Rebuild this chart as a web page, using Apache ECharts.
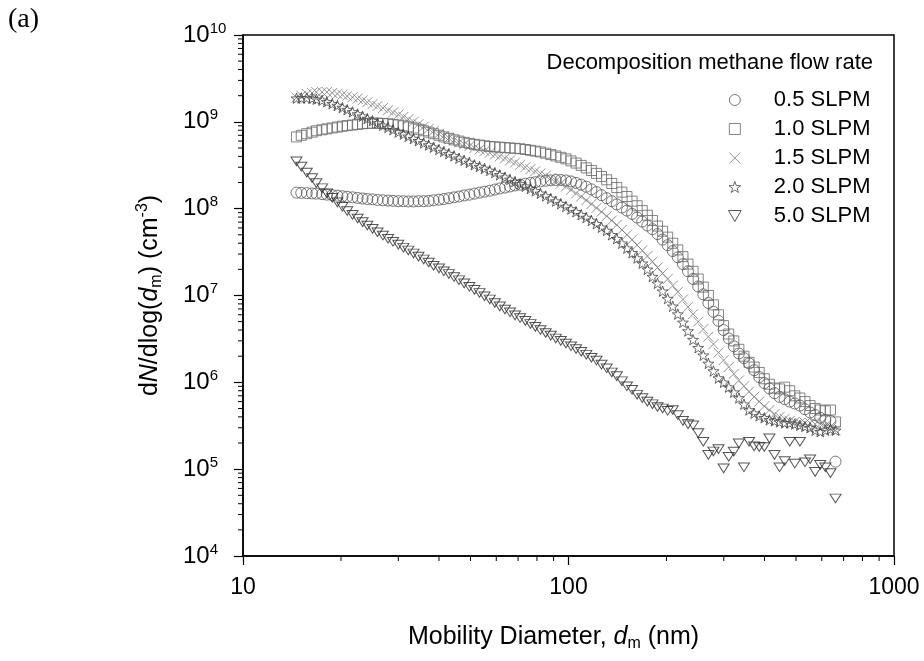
<!DOCTYPE html>
<html>
<head>
<meta charset="utf-8">
<script src="https://cdn.jsdelivr.net/npm/echarts@6/dist/echarts.min.js"></script>
<style>
  html, body { margin: 0; padding: 0; background: #fff; }
  #chart { width: 924px; height: 661px; }
</style>
</head>
<body>
<div id="chart"></div>
<script>
// SMPS channel midpoints (nm)
const diameters = [
  14.6, 15.1, 15.7, 16.3, 16.8, 17.5, 18.1, 18.8, 19.5, 20.2,
  20.9, 21.7, 22.5, 23.3, 24.1, 25.0, 25.9, 26.9, 27.9, 28.9,
  30.0, 31.1, 32.2, 33.4, 34.6, 35.9, 37.2, 38.5, 40.0, 41.4,
  42.9, 44.5, 46.1, 47.8, 49.6, 51.4, 53.3, 55.2, 57.3, 59.4,
  61.5, 63.8, 66.1, 68.5, 71.0, 73.7, 76.4, 79.1, 82.0, 85.1,
  88.2, 91.4, 94.7, 98.2, 101.8, 105.5, 109.4, 113.4, 117.6, 121.9,
  126.3, 131.0, 135.8, 140.7, 145.9, 151.2, 156.8, 162.5, 168.5, 174.7,
  181.1, 187.7, 194.6, 201.7, 209.1, 216.7, 224.7, 232.9, 241.4, 250.3,
  259.5, 269.0, 278.8, 289.0, 299.6, 310.6, 322.0, 333.8, 346.0, 358.7,
  371.8, 385.4, 399.5, 414.2, 429.4, 445.1, 461.4, 478.3, 495.8, 514.0,
  532.8, 552.3, 572.5, 593.5, 615.3, 637.8, 661.2
];

// dN/dlog(dm), cm^-3
const flow05 = [
  1.53e8, 1.52e8, 1.51e8, 1.50e8, 1.49e8, 1.47e8, 1.45e8, 1.43e8, 1.41e8, 1.39e8,
  1.37e8, 1.35e8, 1.33e8, 1.31e8, 1.29e8, 1.28e8, 1.26e8, 1.25e8, 1.24e8, 1.23e8,
  1.22e8, 1.22e8, 1.21e8, 1.21e8, 1.22e8, 1.22e8, 1.23e8, 1.25e8, 1.27e8, 1.29e8,
  1.32e8, 1.35e8, 1.38e8, 1.42e8, 1.45e8, 1.49e8, 1.53e8, 1.57e8, 1.61e8, 1.66e8,
  1.71e8, 1.75e8, 1.80e8, 1.85e8, 1.89e8, 1.94e8, 1.98e8, 2.02e8, 2.06e8, 2.10e8,
  2.12e8, 2.14e8, 2.14e8, 2.11e8, 2.06e8, 1.98e8, 1.89e8, 1.79e8, 1.67e8, 1.55e8,
  1.43e8, 1.32e8, 1.22e8, 1.12e8, 1.03e8, 9.5e7, 8.7e7, 7.9e7, 7.1e7, 6.4e7,
  5.8e7, 5.1e7, 4.4e7, 3.8e7, 3.25e7, 2.75e7, 2.3e7, 1.9e7, 1.55e7, 1.27e7,
  1.03e7, 8.2e6, 6.5e6, 5.1e6, 4.0e6, 3.2e6, 2.6e6, 2.15e6, 1.9e6, 1.65e6,
  1.38e6, 1.15e6, 9.8e5, 8.5e5, 7.5e5, 6.8e5, 6.4e5, 6.0e5, 5.7e5, 5.4e5,
  4.9e5, 4.5e5, 4.2e5, 3.9e5, 3.7e5, 3.6e5, 1.22e5
];
const flow10 = [
  6.7e8, 7.0e8, 7.3e8, 7.6e8, 7.9e8, 8.1e8, 8.3e8, 8.5e8, 8.7e8, 8.9e8,
  9.05e8, 9.2e8, 9.35e8, 9.5e8, 9.6e8, 9.65e8, 9.65e8, 9.6e8, 9.5e8, 9.35e8,
  9.2e8, 9.0e8, 8.75e8, 8.5e8, 8.2e8, 7.9e8, 7.6e8, 7.3e8, 7.0e8, 6.7e8,
  6.45e8, 6.2e8, 6.0e8, 5.8e8, 5.65e8, 5.5e8, 5.4e8, 5.3e8, 5.2e8, 5.15e8,
  5.1e8, 5.05e8, 5.0e8, 4.95e8, 4.9e8, 4.8e8, 4.7e8, 4.6e8, 4.5e8, 4.35e8,
  4.2e8, 4.05e8, 3.9e8, 3.75e8, 3.55e8, 3.35e8, 3.15e8, 2.95e8, 2.75e8, 2.55e8,
  2.35e8, 2.15e8, 1.95e8, 1.75e8, 1.55e8, 1.38e8, 1.22e8, 1.08e8, 9.5e7, 8.4e7,
  7.3e7, 6.3e7, 5.5e7, 4.7e7, 4.0e7, 3.35e7, 2.8e7, 2.3e7, 1.9e7, 1.55e7,
  1.25e7, 1.0e7, 7.8e6, 6.0e6, 4.5e6, 3.6e6, 3.0e6, 2.4e6, 2.0e6, 1.7e6,
  1.5e6, 1.3e6, 1.1e6, 9.5e5, 8.6e5, 8.4e5, 8.8e5, 8.0e5, 7.0e5, 6.6e5,
  6.0e5, 5.4e5, 5.0e5, 4.8e5, 4.7e5, 4.8e5, 3.5e5
];
const flow15 = [
  1.9e9, 2.0e9, 2.1e9, 2.15e9, 2.2e9, 2.2e9, 2.2e9, 2.15e9, 2.1e9, 2.05e9,
  1.98e9, 1.92e9, 1.85e9, 1.77e9, 1.68e9, 1.6e9, 1.52e9, 1.44e9, 1.36e9, 1.28e9,
  1.21e9, 1.14e9, 1.07e9, 1.0e9, 9.4e8, 8.8e8, 8.3e8, 7.8e8, 7.3e8, 6.9e8,
  6.5e8, 6.15e8, 5.8e8, 5.5e8, 5.25e8, 5.0e8, 4.8e8, 4.6e8, 4.4e8, 4.2e8,
  4.0e8, 3.8e8, 3.6e8, 3.4e8, 3.2e8, 3.0e8, 2.85e8, 2.7e8, 2.55e8, 2.4e8,
  2.25e8, 2.1e8, 1.95e8, 1.8e8, 1.65e8, 1.5e8, 1.38e8, 1.25e8, 1.13e8, 1.02e8,
  9.2e7, 8.2e7, 7.3e7, 6.5e7, 5.7e7, 5.0e7, 4.4e7, 3.8e7, 3.3e7, 2.85e7,
  2.45e7, 2.1e7, 1.8e7, 1.55e7, 1.3e7, 1.1e7, 9.0e6, 7.4e6, 6.1e6, 5.0e6,
  4.1e6, 3.35e6, 2.75e6, 2.2e6, 1.8e6, 1.5e6, 1.25e6, 1.05e6, 9.0e5, 7.8e5,
  6.8e5, 6.0e5, 5.3e5, 4.8e5, 4.3e5, 4.0e5, 3.8e5, 3.6e5, 3.5e5, 3.4e5,
  3.4e5, 3.4e5, 3.3e5, 3.3e5, 3.2e5, 3.1e5, 2.8e5
];
const flow20 = [
  1.87e9, 1.88e9, 1.88e9, 1.86e9, 1.82e9, 1.77e9, 1.7e9, 1.62e9, 1.54e9, 1.46e9,
  1.38e9, 1.3e9, 1.23e9, 1.16e9, 1.09e9, 1.03e9, 9.7e8, 9.1e8, 8.6e8, 8.1e8,
  7.6e8, 7.2e8, 6.8e8, 6.4e8, 6.05e8, 5.7e8, 5.4e8, 5.1e8, 4.8e8, 4.55e8,
  4.3e8, 4.05e8, 3.8e8, 3.6e8, 3.4e8, 3.2e8, 3.05e8, 2.9e8, 2.75e8, 2.6e8,
  2.45e8, 2.3e8, 2.17e8, 2.05e8, 1.93e8, 1.81e8, 1.7e8, 1.6e8, 1.5e8, 1.4e8,
  1.31e8, 1.22e8, 1.14e8, 1.06e8, 9.9e7, 9.2e7, 8.5e7, 7.9e7, 7.3e7, 6.7e7,
  6.1e7, 5.6e7, 5.0e7, 4.5e7, 4.0e7, 3.5e7, 3.1e7, 2.7e7, 2.35e7, 2.0e7,
  1.65e7, 1.38e7, 1.12e7, 9.2e6, 7.5e6, 6.1e6, 4.9e6, 3.9e6, 3.1e6, 2.5e6,
  2.05e6, 1.65e6, 1.35e6, 1.12e6, 1.0e6, 8.8e5, 7.7e5, 6.6e5, 5.6e5, 4.8e5,
  4.4e5, 4.1e5, 3.9e5, 3.7e5, 3.6e5, 3.5e5, 3.4e5, 3.4e5, 3.3e5, 3.2e5,
  3.1e5, 3.0e5, 2.8e5, 2.7e5, 2.8e5, 2.9e5, 2.8e5
];
const flow50 = [
  3.5e8, 3.05e8, 2.6e8, 2.25e8, 1.97e8, 1.72e8, 1.5e8, 1.33e8, 1.18e8, 1.05e8,
  9.4e7, 8.5e7, 7.7e7, 7.0e7, 6.4e7, 5.85e7, 5.35e7, 4.9e7, 4.5e7, 4.15e7,
  3.85e7, 3.55e7, 3.3e7, 3.05e7, 2.8e7, 2.6e7, 2.4e7, 2.2e7, 2.05e7, 1.9e7,
  1.77e7, 1.63e7, 1.5e7, 1.38e7, 1.26e7, 1.16e7, 1.07e7, 9.8e6, 9.0e6, 8.2e6,
  7.5e6, 6.9e6, 6.4e6, 5.9e6, 5.5e6, 5.1e6, 4.7e6, 4.35e6, 4.0e6, 3.7e6,
  3.45e6, 3.2e6, 3.0e6, 2.8e6, 2.6e6, 2.42e6, 2.25e6, 2.08e6, 1.92e6, 1.78e6,
  1.6e6, 1.45e6, 1.3e6, 1.18e6, 1.03e6, 9.0e5, 8.2e5, 7.2e5, 6.6e5, 6.0e5,
  5.6e5, 5.2e5, 5.0e5, 4.7e5, 4.8e5, 4.2e5, 3.6e5, 3.3e5, 3.2e5, 2.6e5,
  2.07e5, 1.46e5, 1.6e5, 1.7e5, 1.02e5, 1.39e5, 1.59e5, 1.98e5, 1.05e5, 2.07e5,
  1.83e5, 1.8e5, 1.8e5, 2.26e5, 1.46e5, 1.05e5, 1.24e5, 2.07e5, 1.16e5, 2.07e5,
  1.2e5, 1.3e5, 9.3e4, 1.12e5, 1.05e5, 9.0e4, 4.6e4
];

const seriesNames = ['0.5 SLPM', '1.0 SLPM', '1.5 SLPM', '2.0 SLPM', '5.0 SLPM'];

// axis furniture
const xDecades = [10, 100];
const yDecades = [1e4, 1e5, 1e6, 1e7, 1e8, 1e9];
const minorSteps = [2, 3, 4, 5, 6, 7, 8, 9];

const FONT = '"Liberation Sans", Arial, sans-serif';
const SQUARE = 'path://M0,0L10,0L10,10L0,10Z';
const STAR = 'path://M50,0L61.8,33.8L97.6,34.5L69,56.2L79.4,90.5L50,70L20.6,90.5L31,56.2L2.4,34.5L38.2,33.8Z';
const CROSS = 'path://M0,0L10,10M10,0L0,10';
const TRI_DOWN = 'path://M0,0L10,0L5,8.66Z';

function makeSeries(name, values, symbol, size, color) {
  return {
    name: name,
    type: 'scatter',
    data: diameters.map((d, i) => [d, values[i]]),
    symbol: symbol,
    symbolSize: size,
    symbolKeepAspect: true,
    itemStyle: { color: 'transparent', borderColor: color, borderWidth: 1 },
    emphasis: { disabled: true }
  };
}

const chart = echarts.init(document.getElementById('chart'));

chart.setOption({
  animation: false,
  backgroundColor: '#fff',
  grid: {
    left: 243, right: 30, top: 35, bottom: 105,
    show: true, borderColor: '#000', borderWidth: 1.5
  },
  legend: {
    orient: 'vertical',
    left: 728, top: 89,   // bbox starts at the icon edge, icons centred near x=734
    padding: 0,
    itemWidth: 68, itemHeight: 11, itemGap: 7,
    selectedMode: false,
    itemStyle: { borderWidth: 1 },
    textStyle: { fontSize: 22, color: '#000', fontFamily: FONT, lineHeight: 22 },
    data: seriesNames
  },
  xAxis: {
    type: 'log', logBase: 10, min: 10, max: 1000,
    axisLine: { lineStyle: { color: '#000', width: 1.5 } },
    axisTick: { inside: false, length: 9, lineStyle: { color: '#000', width: 1.2 } },
    splitLine: { show: false },
    axisLabel: {
      margin: 20, fontSize: 23, color: '#000', fontFamily: FONT,
      formatter: v => String(Math.round(v))
    },
    name: 'Mobility Diameter, {i|d}{sub|m} (nm)',
    nameLocation: 'middle',
    nameGap: 66,
    nameTextStyle: {
      fontSize: 25, color: '#000', fontFamily: FONT, lineHeight: 30,
      padding: [0, 30, 0, 0],
      rich: {
        i: { fontSize: 25, fontStyle: 'italic', fontFamily: FONT, color: '#000', lineHeight: 30 },
        sub: { fontSize: 16, fontFamily: FONT, color: '#000', lineHeight: 16, verticalAlign: 'bottom' }
      }
    }
  },
  yAxis: {
    type: 'log', logBase: 10, min: 1e4, max: 1e10, splitNumber: 6,
    axisLine: { lineStyle: { color: '#000', width: 1.5 } },
    axisTick: { inside: false, length: 9, lineStyle: { color: '#000', width: 1.2 } },
    splitLine: { show: false },
    axisLabel: {
      margin: 60, align: 'left', fontSize: 24, color: '#000', fontFamily: FONT, lineHeight: 28,
      formatter: v => '10{s|' + Math.round(Math.log10(v)) + '}',
      rich: {
        s: { fontSize: 15, fontFamily: FONT, color: '#000', lineHeight: 15, verticalAlign: 'top' }
      }
    },
    name: 'd{i|N}/dlog({i|d}{sub|m}) (cm{sup|-3})',
    nameLocation: 'middle',
    nameRotate: 90,
    nameGap: 78,
    nameTextStyle: {
      fontSize: 25, color: '#000', fontFamily: FONT, lineHeight: 30,
      rich: {
        i: { fontSize: 25, fontStyle: 'italic', fontFamily: FONT, color: '#000', lineHeight: 30 },
        sub: { fontSize: 16, fontFamily: FONT, color: '#000', lineHeight: 16, verticalAlign: 'bottom' },
        sup: { fontSize: 16, fontFamily: FONT, color: '#000', lineHeight: 16, verticalAlign: 'top' }
      }
    }
  },
  series: [
    makeSeries(seriesNames[0], flow05, 'circle', 11, '#555'),
    makeSeries(seriesNames[1], flow10, SQUARE, 10, '#666'),
    makeSeries(seriesNames[2], flow15, CROSS, 10, '#777'),
    makeSeries(seriesNames[3], flow20, STAR, 11, '#444'),
    makeSeries(seriesNames[4], flow50, TRI_DOWN, [11, 10], '#2a2a2a')
  ]
});

// minor log ticks (2..9 per decade) placed with the axes' own scales
const gridRect = { left: 243, bottom: 661 - 105 };
const tickLines = [];
xDecades.forEach(d => minorSteps.forEach(m => {
  const px = chart.convertToPixel({ xAxisIndex: 0 }, d * m);
  tickLines.push({
    type: 'line', silent: true,
    shape: { x1: px, y1: gridRect.bottom, x2: px, y2: gridRect.bottom + 5 },
    style: { stroke: '#000', lineWidth: 1 }
  });
}));
yDecades.forEach(d => minorSteps.forEach(m => {
  const py = chart.convertToPixel({ yAxisIndex: 0 }, d * m);
  tickLines.push({
    type: 'line', silent: true,
    shape: { x1: gridRect.left - 5, y1: py, x2: gridRect.left, y2: py },
    style: { stroke: '#000', lineWidth: 1 }
  });
}));

chart.setOption({
  graphic: [
    {
      type: 'text', left: 8, top: 6, silent: true,
      style: { text: '(a)', fontSize: 28, fontFamily: '"Liberation Serif", "Times New Roman", serif', fill: '#000' }
    },
    {
      type: 'text', x: 873, y: 63, silent: true,
      style: {
        text: 'Decomposition methane flow rate', fontSize: 22, fontFamily: FONT, fill: '#000',
        align: 'right', verticalAlign: 'middle'
      }
    }
  ].concat(tickLines)
});
</script>
</body>
</html>
